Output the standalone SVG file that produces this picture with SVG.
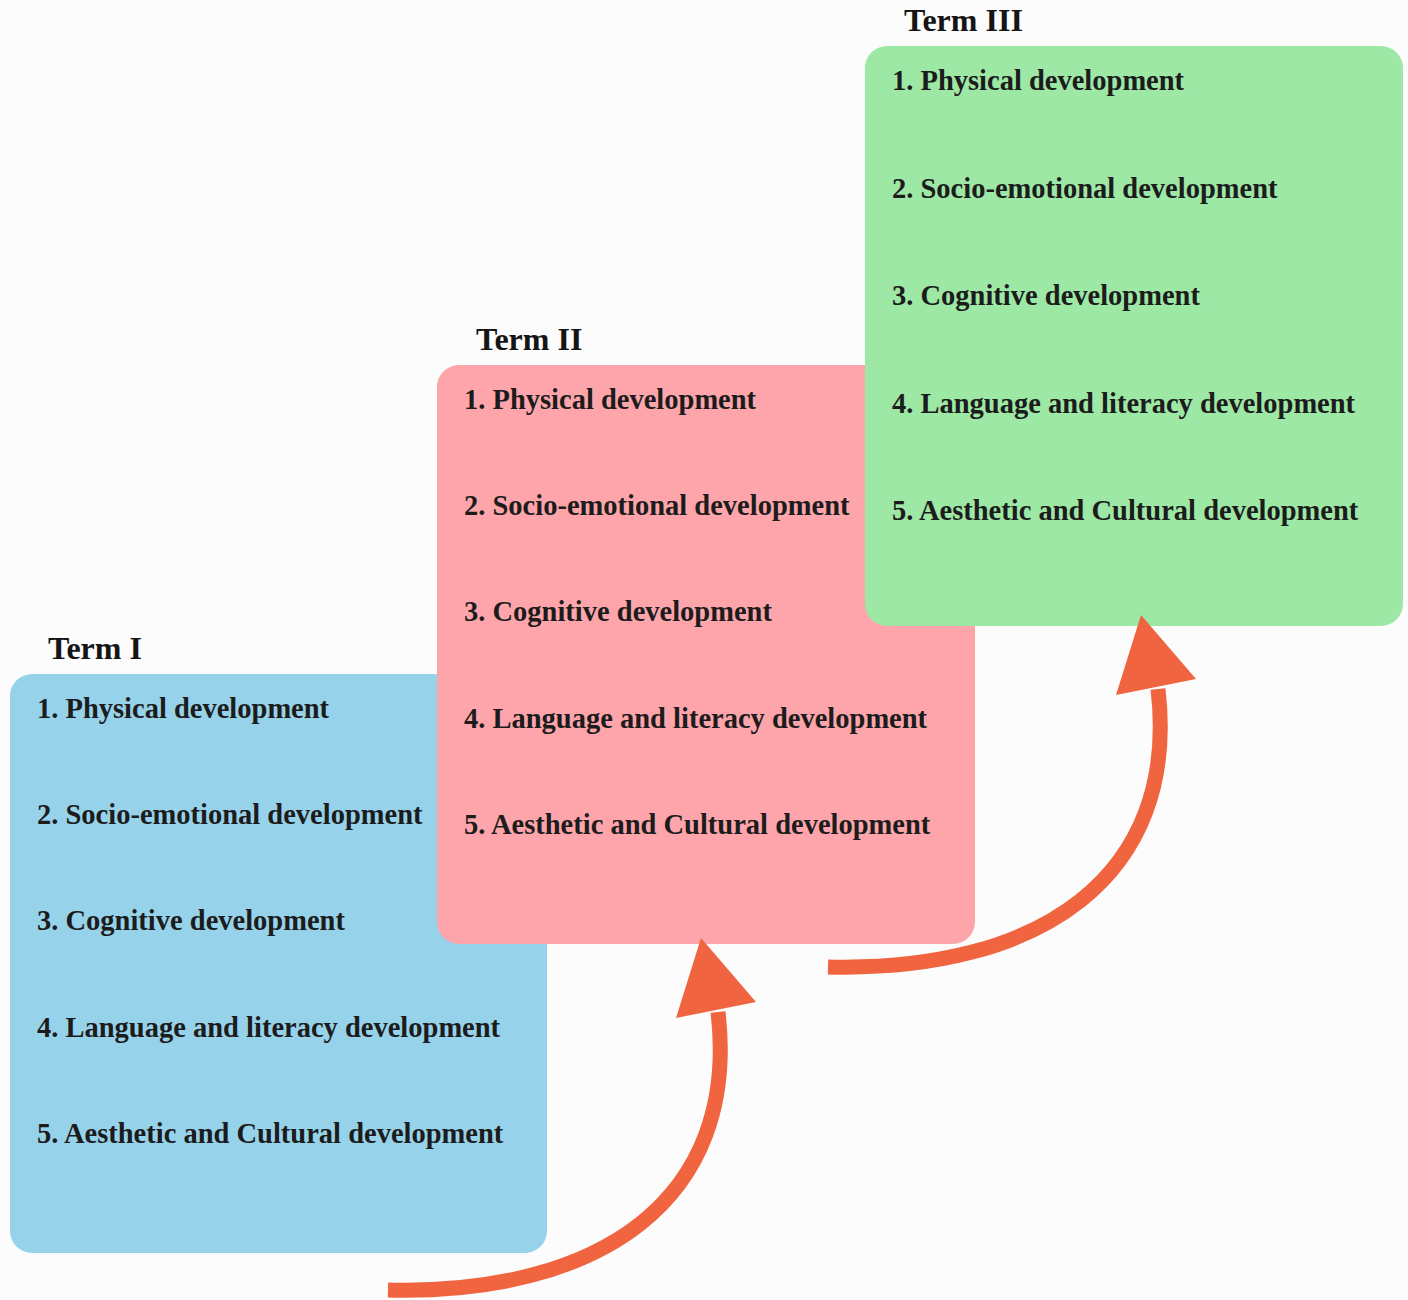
<svg xmlns="http://www.w3.org/2000/svg" width="1408" height="1300" viewBox="0 0 1408 1300">
<style>
.item{font-family:"Liberation Serif","Times New Roman",serif;font-weight:bold;font-size:28.5px;fill:#1c1c1c}
.term{font-family:"Liberation Serif","Times New Roman",serif;font-weight:bold;font-size:32px;fill:#151515}
.shaft{fill:none;stroke:#f0643f;stroke-width:15}
.head{fill:#f0643f}
</style>
<defs>
<g id="arrow">
<path class="shaft" d="M 388 1290 C 600 1295, 740 1200, 718 1012"/>
<polygon class="head" points="701,938 676,1018 756,1002"/>
</g>
</defs>
<rect width="1408" height="1300" fill="#fcfcfc"/>
<g id="term1">
<text class="term" x="48" y="659">Term I</text>
<rect x="10" y="674" width="537" height="579" rx="22" fill="#96d3eb"/>
<text class="item" x="37" y="718">1. Physical development</text>
<text class="item" x="37" y="824">2. Socio-emotional development</text>
<text class="item" x="37" y="930">3. Cognitive development</text>
<text class="item" x="37" y="1037">4. Language and literacy development</text>
<text class="item" x="37" y="1143">5. Aesthetic and Cultural development</text>
</g>
<g id="term2">
<text class="term" x="476" y="350">Term II</text>
<rect x="437" y="365" width="538" height="579" rx="22" fill="#fda5ab"/>
<text class="item" x="464" y="409">1. Physical development</text>
<text class="item" x="464" y="515">2. Socio-emotional development</text>
<text class="item" x="464" y="621">3. Cognitive development</text>
<text class="item" x="464" y="728">4. Language and literacy development</text>
<text class="item" x="464" y="834">5. Aesthetic and Cultural development</text>
</g>
<g id="term3">
<text class="term" x="904" y="31">Term III</text>
<rect x="865" y="46" width="538" height="580" rx="22" fill="#9de8a5"/>
<text class="item" x="892" y="90">1. Physical development</text>
<text class="item" x="892" y="198">2. Socio-emotional development</text>
<text class="item" x="892" y="305">3. Cognitive development</text>
<text class="item" x="892" y="413">4. Language and literacy development</text>
<text class="item" x="892" y="520">5. Aesthetic and Cultural development</text>
</g>
<g id="connectors">
<use href="#arrow"/>
<use href="#arrow" transform="translate(440,-323)"/>
</g>
</svg>
